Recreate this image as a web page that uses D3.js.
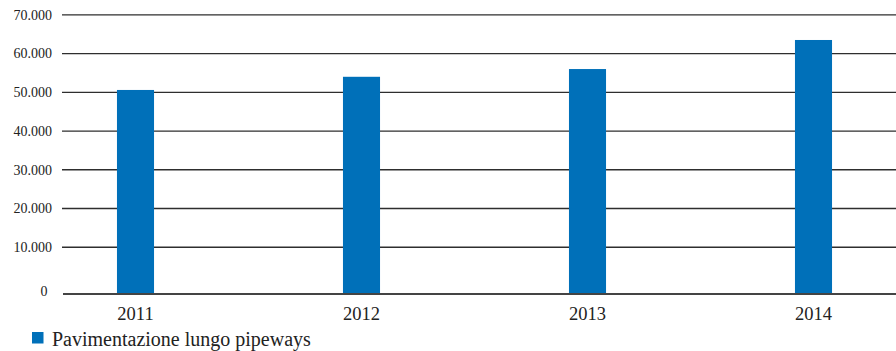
<!DOCTYPE html>
<html><head><meta charset="utf-8">
<script src="https://cdn.jsdelivr.net/npm/d3@7"></script>
<style>html,body{margin:0;padding:0;background:#fff;}svg{display:block;}
text{font-family:"Liberation Serif","Times New Roman",Tinos,Times,"DejaVu Serif",serif;}</style>
</head><body>
<svg id="chart" width="896" height="351"></svg>
<script>
const categories = ["2011", "2012", "2013", "2014"];
const values = [50600, 54000, 56000, 63500];
const tickValues = [0, 10000, 20000, 30000, 40000, 50000, 60000, 70000];
const tickLabels = ["0", "10.000", "20.000", "30.000", "40.000", "50.000", "60.000", "70.000"];
const seriesName = "Pavimentazione lungo pipeways";

const svg = d3.select("#chart");
const W = 896;
const barColor = "#0070b9";

const y = d3.scaleLinear().domain([0, 70000]).range([286, 14.8]);
const baseline = 294;
const x = d3.scaleBand().domain(categories).range([22.5, 926.5]).paddingInner(0.836).paddingOuter(0.418);

// gridlines
svg.append("g").selectAll("line").data(tickValues.filter(v => v > 0)).join("line")
  .attr("x1", 62).attr("x2", W)
  .attr("y1", d => y(d)).attr("y2", d => y(d))
  .attr("stroke", "#2e2e2e").attr("stroke-width", 1.3);

// tick labels
svg.append("g").selectAll("text").data(tickValues).join("text")
  .attr("x", d => d === 0 ? 47.5 : 52)
  .attr("y", d => d === 0 ? baseline - 3 : y(d))
  .attr("dy", "0.35em")
  .attr("text-anchor", "end")
  .attr("font-size", 14).attr("fill", "#222")
  .text((d, i) => tickLabels[i]);

// bars
svg.append("g").selectAll("rect").data(values).join("rect")
  .attr("x", (d, i) => x(categories[i]))
  .attr("width", x.bandwidth())
  .attr("y", d => y(d))
  .attr("height", d => baseline - y(d))
  .attr("fill", barColor);

// x axis line
svg.append("line").attr("x1", 63).attr("x2", W).attr("y1", baseline).attr("y2", baseline)
  .attr("stroke", "#444").attr("stroke-width", 2);

// category labels
svg.append("g").selectAll("text").data(categories).join("text")
  .attr("x", d => x(d) + x.bandwidth() / 2)
  .attr("y", 320)
  .attr("text-anchor", "middle")
  .attr("font-size", 18.5).attr("fill", "#222")
  .text(d => d);

// legend
const lg = svg.append("g");
lg.append("rect").attr("x", 32).attr("y", 332).attr("width", 11.5).attr("height", 11.5).attr("fill", barColor);
lg.append("text").attr("x", 52).attr("y", 346)
  .attr("font-size", 20).attr("fill", "#222")
  .text(seriesName);
</script>
</body></html>
